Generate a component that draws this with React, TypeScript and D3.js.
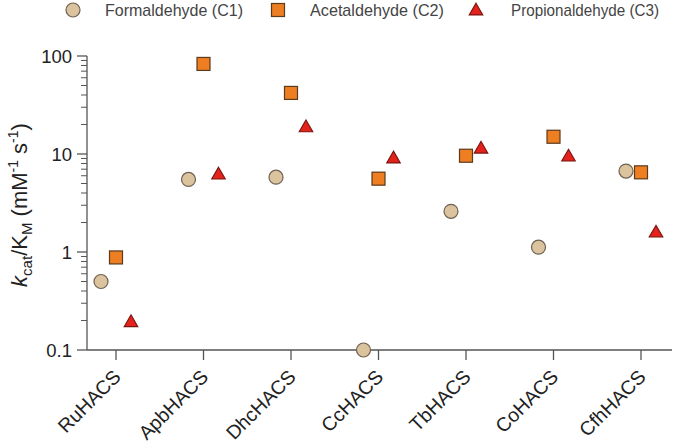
import React from "react";
import * as d3 from "d3";

const categories = ["RuHACS", "ApbHACS", "DhcHACS", "CcHACS", "TbHACS", "CoHACS", "CfhHACS"];
const formaldehyde = [0.5, 5.5, 5.8, 0.1, 2.6, 1.12, 6.7];
const acetaldehyde = [0.88, 83, 42, 5.6, 9.6, 15, 6.5];
const propionaldehyde = [0.19, 6.1, 18.5, 8.9, 11.2, 9.3, 1.56];
const yTicks = [0.1, 1, 10, 100];
const seriesNames = ["Formaldehyde (C1)", "Acetaldehyde (C2)", "Propionaldehyde (C3)"];

const W = 675, H = 447;
const x = d3.scalePoint<string>().domain(categories).range([116, 641]);
const y = d3.scaleLog().domain([0.1, 100]).range([350, 56]);
const axisX0 = 87, axisX1 = 672;

const circleStyle = { fill: "#DBC39E", stroke: "#6E6052", strokeWidth: 1.2 };
const squareStyle = { fill: "#EE7E22", stroke: "#5C3A1C", strokeWidth: 1.2 };
const triStyle = { fill: "#E3221B", stroke: "#7A1410", strokeWidth: 1.1 };

const tri = d3.symbol().type(d3.symbolTriangle).size(80)();

function Circle({ cx, cy }: { cx: number; cy: number }) {
  return <circle cx={cx} cy={cy} r={7} {...circleStyle} />;
}
function Square({ cx, cy }: { cx: number; cy: number }) {
  return <rect x={cx - 6.5} y={cy - 6.5} width={13} height={13} {...squareStyle} />;
}
function Tri({ cx, cy }: { cx: number; cy: number }) {
  return <path d={tri || ""} transform={`translate(${cx},${cy})`} {...triStyle} />;
}

export default function App() {
  const minor: number[] = [];
  for (let e = -1; e < 2; e++) {
    for (let k = 2; k <= 9; k++) minor.push(k * Math.pow(10, e));
  }
  const axisColor = "#555";
  const font = "Arial, 'Liberation Sans', sans-serif";
  return (
    <svg width={W} height={H} style={{ position: "absolute", left: 0, top: 0, background: "#fff" }} fontFamily={font}>
      {/* legend */}
      <g fontSize={17} fill="#444">
        <Circle cx={73} cy={10} />
        <text x={105} y={16} textLength={138} lengthAdjust="spacingAndGlyphs">{seriesNames[0]}</text>
        <Square cx={278} cy={10} />
        <text x={310} y={16} textLength={134} lengthAdjust="spacingAndGlyphs">{seriesNames[1]}</text>
        <Tri cx={476} cy={11} />
        <text x={511} y={16} textLength={148} lengthAdjust="spacingAndGlyphs">{seriesNames[2]}</text>
      </g>
      {/* y axis */}
      <line x1={axisX0} x2={axisX0} y1={y(100)} y2={y(0.1)} stroke={axisColor} strokeWidth={1.3} />
      {yTicks.map((t) => (
        <g key={t}>
          <line x1={axisX0 - 10} x2={axisX0} y1={y(t)} y2={y(t)} stroke={axisColor} strokeWidth={1.3} />
          <text x={axisX0 - 15} y={y(t) + 6.5} textAnchor="end" fontSize={18.5} fill="#222">{t}</text>
        </g>
      ))}
      {minor.map((t) => (
        <line key={t} x1={axisX0 - 6} x2={axisX0} y1={y(t)} y2={y(t)} stroke={axisColor} strokeWidth={1} />
      ))}
      {/* x axis */}
      <line x1={axisX0} x2={axisX1} y1={y(0.1)} y2={y(0.1)} stroke={axisColor} strokeWidth={1.3} />
      {categories.map((c) => (
        <g key={c}>
          <line x1={x(c)!} x2={x(c)!} y1={y(0.1)} y2={y(0.1) + 10} stroke={axisColor} strokeWidth={1.3} />
          <text
            transform={`translate(${x(c)! + 6},${y(0.1) + 28}) rotate(-45)`}
            textAnchor="end"
            fontSize={19.5}
            fill="#222"
          >{c}</text>
        </g>
      ))}
      {/* y title */}
      <text transform={`translate(27,${(y(100) + y(0.1)) / 2 + 2}) rotate(-90)`} textAnchor="middle" fontSize={22} fill="#222">
        <tspan fontStyle="italic">k</tspan>
        <tspan fontSize={15} dy={5}>cat</tspan>
        <tspan dy={-5}>/K</tspan>
        <tspan fontSize={15} dy={5}>M</tspan>
        <tspan dy={-5}> (mM</tspan>
        <tspan fontSize={14} dy={-9}>-1</tspan>
        <tspan dy={9}> s</tspan>
        <tspan fontSize={14} dy={-9}>-1</tspan>
        <tspan dy={9}>)</tspan>
      </text>
      {/* points */}
      {categories.map((c, i) => (
        <g key={c}>
          <Circle cx={x(c)! - 15} cy={y(formaldehyde[i])} />
          <Square cx={x(c)!} cy={y(acetaldehyde[i])} />
          <Tri cx={x(c)! + 15} cy={y(propionaldehyde[i])} />
        </g>
      ))}
    </svg>
  );
}
